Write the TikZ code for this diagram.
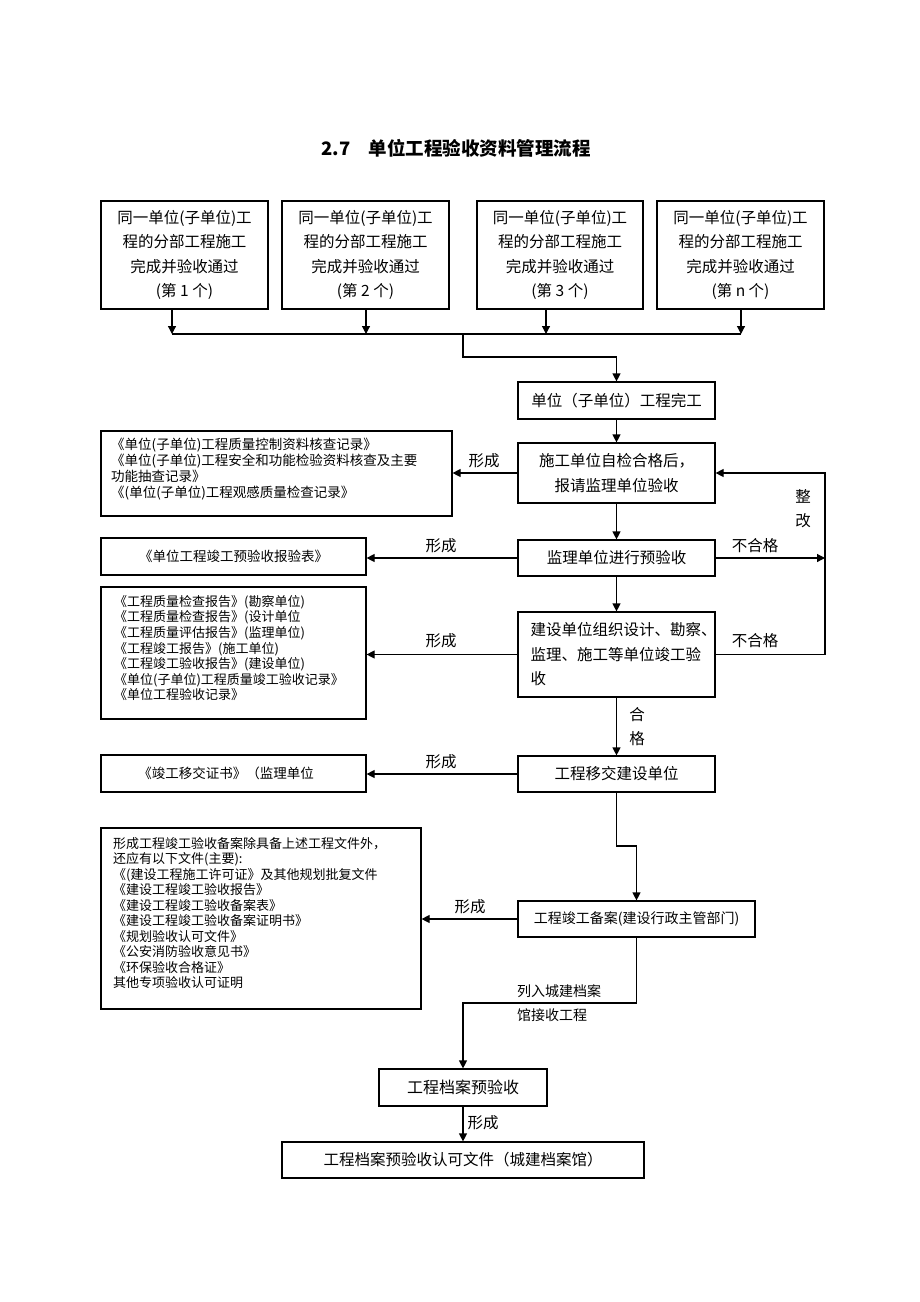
\documentclass[tikz,border=0pt]{standalone}
\usepackage{fontspec}
\setmainfont{Noto Sans CJK SC}
\usetikzlibrary{arrows.meta}
\newcommand\fsz[2]{\fontsize{#1}{#2}\selectfont}
\begin{document}
\begin{tikzpicture}[x=1pt,y=-1pt,
  box/.style={draw, line width=1.2pt, inner sep=0pt, align=center, font=\fsz{15.5}{24.5}},
  lbox/.style={draw, line width=1.2pt, inner sep=0pt},
  ltext/.style={inner sep=0pt, anchor=north west, align=left, font=\fsz{13}{15.6}},
  lbl/.style={inner sep=0pt, align=center, font=\fsz{15.5}{24}},
  ln/.style={line width=1.2pt},
  arr/.style={line width=1.2pt, -{Triangle[length=8pt,width=8pt]}},
]
\useasboundingbox (0,0) rectangle (920,1302);

% title
\node[font=\fsz{18.5}{20}\bfseries, inner sep=0pt] (title) at (456,148) {2.7\quad 单位工程验收资料管理流程};

% top boxes
\node[box, minimum width=167pt, minimum height=108pt] (t1) at (184.5,255) {同一单位(子单位)工\\程的分部工程施工\\完成并验收通过\\(第 1 个)};
\node[box, minimum width=167pt, minimum height=108pt] (t2) at (365.5,255) {同一单位(子单位)工\\程的分部工程施工\\完成并验收通过\\(第 2 个)};
\node[box, minimum width=166pt, minimum height=108pt] (t3) at (560,255) {同一单位(子单位)工\\程的分部工程施工\\完成并验收通过\\(第 3 个)};
\node[box, minimum width=167pt, minimum height=108pt] (t4) at (740.5,255) {同一单位(子单位)工\\程的分部工程施工\\完成并验收通过\\(第 n 个)};

\coordinate (a1) at (172,334);
\coordinate (a2) at (366,334);
\coordinate (a3) at (546,334);
\coordinate (a4) at (741,334);
\coordinate (j1) at (463,334);
\coordinate (j2) at (463,357);

% main column
\node[box, minimum width=197pt, minimum height=37pt] (A) at (616.5,400.5) {单位（子单位）工程完工};
\node[box, minimum width=197pt, minimum height=60pt] (B) at (616.5,473) {施工单位自检合格后，\\报请监理单位验收};
\node[box, minimum width=197pt, minimum height=36pt] (C) at (616.5,558) {监理单位进行预验收};
\node[box, minimum width=197pt, minimum height=85pt, text width=172pt, align=left] (D) at (616.5,654.5) {建设单位组织设计、勘察、\\监理、施工等单位竣工验\\收};
\node[box, minimum width=197pt, minimum height=36pt] (E) at (616.5,774) {工程移交建设单位};
\node[box, minimum width=237pt, minimum height=36pt, font=\fsz{14}{20}] (F) at (636.5,919) {工程竣工备案(建设行政主管部门)};
\node[box, minimum width=168pt, minimum height=37pt, font=\fsz{16}{20}] (G) at (463,1087.5) {工程档案预验收};
\node[box, minimum width=362pt, minimum height=36pt] (H) at (463,1160) {工程档案预验收认可文件（城建档案馆）};

% left boxes
\node[lbox, minimum width=351pt, minimum height=85pt] (L1) at (276.5,473.5) {};
\node[ltext, font=\fsz{13.5}{16}] (L1t) at (111,437.5) {《单位(子单位)工程质量控制资料核查记录》\\《单位(子单位)工程安全和功能检验资料核查及主要\\功能抽查记录》\\《(单位(子单位)工程观感质量检查记录》};

\node[lbox, minimum width=265pt, minimum height=37pt, font=\fsz{13.5}{16}] (L2) at (233.5,556.5) {《单位工程竣工预验收报验表》};

\node[lbox, minimum width=265pt, minimum height=132pt] (L3) at (233.5,653) {};
\node[ltext] (L3t) at (114,595) {《工程质量检查报告》(勘察单位)\\《工程质量检查报告》(设计单位\\《工程质量评估报告》(监理单位)\\《工程竣工报告》(施工单位)\\《工程竣工验收报告》(建设单位)\\《单位(子单位)工程质量竣工验收记录》\\《单位工程验收记录》};

\node[lbox, minimum width=265pt, minimum height=37pt] (L4) at (233.5,773.5) {};
\node[inner sep=0pt, font=\fsz{13.5}{16}] (L4t) at (226,773.5) {《竣工移交证书》（监理单位};

\node[lbox, minimum width=320pt, minimum height=181pt] (L5) at (261,918.5) {};
\node[ltext, font=\fsz{13}{15.5}] (L5t) at (113,837) {形成工程竣工验收备案除具备上述工程文件外，\\还应有以下文件(主要):\\《(建设工程施工许可证》及其他规划批复文件\\《建设工程竣工验收报告》\\《建设工程竣工验收备案表》\\《建设工程竣工验收备案证明书》\\《规划验收认可文件》\\《公安消防验收意见书》\\《环保验收合格证》\\其他专项验收认可证明};

% top connectors
\draw[arr] (t1.south -| a1) -- (a1);
\draw[arr] (t2.south -| a2) -- (a2);
\draw[arr] (t3.south -| a3) -- (a3);
\draw[arr] (t4.south -| a4) -- (a4);
\draw[ln] (a1) -- (a4);
\draw[arr] (j1) -- (j2) -| (A.north);

% main vertical flow
\draw[arr] (A) -- (B);
\draw[arr] (B) -- (C);
\draw[arr] (C) -- (D);
\draw[arr] (D) -- (E);
\node[lbl] (hg) at (637,726.5) {合\\格};

\coordinate (k) at (0,846);
\draw[arr] (E.south) -- (E.south |- k) -| (F.north);
\coordinate (m) at (0,1003);
\draw[arr] (F.south) -- (F.south |- m) -| (G.north);
\node[inner sep=0pt, anchor=west, font=\fsz{14}{16}] (lr1) at (517,991) {列入城建档案};
\node[inner sep=0pt, anchor=west, font=\fsz{14}{16}] (lr2) at (517,1015) {馆接收工程};
\draw[arr] (G) -- (H);
\node[lbl] (xc6) at (483,1123) {形成};

% left arrows
\draw[arr] (B.west) -- (B.west -| L1.east);
\node[lbl] (xc1) at (484,461) {形成};
\draw[arr] (C.west) -- (C.west -| L2.east);
\node[lbl] (xc2) at (441,546) {形成};
\draw[arr] (D.west) -- (D.west -| L3.east);
\node[lbl] (xc3) at (441,641) {形成};
\draw[arr] (E.west) -- (E.west -| L4.east);
\node[lbl] (xc4) at (441,762) {形成};
\draw[arr] (F.west) -- (F.west -| L5.east);
\node[lbl] (xc5) at (470,907) {形成};

% right loop
\coordinate (r) at (825,0);
\draw[arr] (C.east) -- (C.east -| r);
\draw[arr] (D.east) -- (D.east -| r) -- (B.east -| r) -- (B.east);
\node[lbl] (bh1) at (755,546) {不合格};
\node[lbl] (bh2) at (755,641) {不合格};
\node[lbl] (zg) at (803,509) {整\\改};
\end{tikzpicture}
\end{document}
